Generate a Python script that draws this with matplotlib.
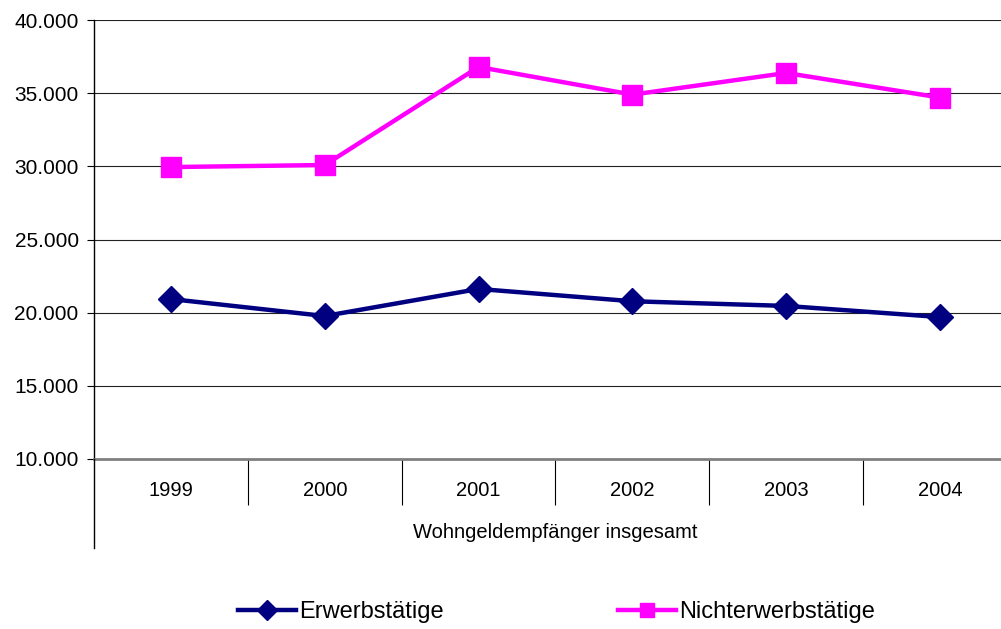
import numpy as np
import matplotlib.pyplot as plt
from matplotlib.lines import Line2D

plt.rcParams['font.family'] = ['Liberation Sans', 'DejaVu Sans']

# data
years = ['1999', '2000', '2001', '2002', '2003', '2004']
erwerbstaetige = [20930, 19770, 21620, 20780, 20460, 19700]
nichterwerbstaetige = [29950, 30090, 36790, 34900, 36380, 34700]
group_label = 'Wohngeldempfänger insgesamt'
yticks = [10000, 15000, 20000, 25000, 30000, 35000, 40000]

fig = plt.figure(figsize=(10.01, 6.29), dpi=100)
ax = fig.add_axes([94 / 1001, 1 - 459 / 629, (1017 - 94) / 1001, (459 - 20) / 629])

x = np.arange(len(years))
ax.plot(x, erwerbstaetige, color='#000080', lw=3.2, marker='D', ms=13,
        label='Erwerbstätige', zorder=3)
ax.plot(x, nichterwerbstaetige, color='#FF00FF', lw=3.2, marker='s', ms=14,
        label='Nichterwerbstätige', zorder=3)

ax.set_xlim(-0.5, len(years) - 0.5)
ax.set_ylim(10000, 40000)
ax.set_yticks(yticks)
ax.set_yticklabels([f'{v:,}'.replace(',', '.') for v in yticks])
ax.yaxis.grid(True, color='#222222', lw=0.8)
ax.set_axisbelow(True)

ax.set_xticks(x)
ax.set_xticklabels(years)
ax.set_xticks(x[:-1] + 0.5, minor=True)
ax.tick_params(axis='x', which='major', length=0, pad=16, labelsize=14.5)
ax.tick_params(axis='x', which='minor', length=33, width=0.8, direction='out')
ax.tick_params(axis='y', length=5, width=0.8, labelsize=15, pad=6)
ax.set_xlabel(group_label, fontsize=14.5, labelpad=10)

for s in ['top', 'right']:
    ax.spines[s].set_visible(False)
ax.spines['bottom'].set_color('#808080')
ax.spines['bottom'].set_linewidth(2)
ax.spines['left'].set_linewidth(1.0)

# left axis line continues down past the category labels
fig.add_artist(Line2D([94 / 1001, 94 / 1001], [1 - 459 / 629, 1 - 548 / 629],
                      transform=fig.transFigure, color='black', lw=1.0))

fig.legend(loc='center', bbox_to_anchor=(0.556, 0.027), ncol=2, frameon=False,
           fontsize=17, handlelength=2.45, handletextpad=0.12, columnspacing=7.4,
           markerscale=0.75)

fig.savefig('out.png', dpi=100)
